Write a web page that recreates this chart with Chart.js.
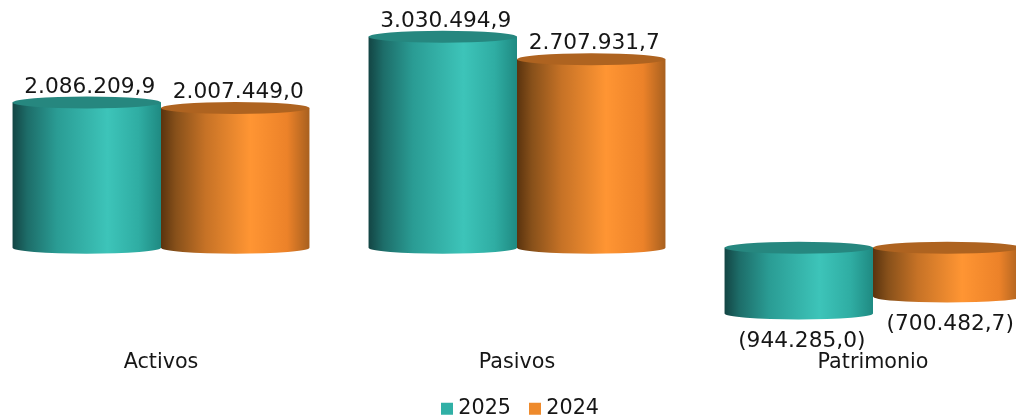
<!DOCTYPE html>
<html>
<head>
<meta charset="utf-8">
<title>Activos, Pasivos y Patrimonio</title>
<script src="https://cdn.jsdelivr.net/npm/chart.js@4"></script>
<style>
html, body { margin: 0; padding: 0; background: #fff; overflow: hidden; }
#wrap { position: absolute; left: -17px; top: 0; width: 1068px; height: 417px; }
</style>
</head>
<body>
<div id="wrap"><canvas id="chartBalance"></canvas></div>
<script>
const categories = ['Activos', 'Pasivos', 'Patrimonio'];
const values_2025 = [2086209.9, 3030494.9, -944285.0];
const values_2024 = [2007449.0, 2707931.7, -700482.7];
const series_labels = ['2025', '2024'];

const font_family = '"DejaVu Sans", sans-serif';
const font_size = 20.7;
const value_font_size = 21.7;
const text_color = '#161616';

// side shading and cap colour of each cylinder
const shades = [
    {
        flat: '#30b0a6',
        cap: '#26877f',
        stops: [[0, '#134544'], [0.1, '#1d6d69'], [0.3, '#2a9c94'], [0.64, '#3dc4b9'], [0.85, '#2fada3'], [1, '#1f8a82']]
    },
    {
        flat: '#ee8a2c',
        cap: '#ae6320',
        stops: [[0, '#5a330e'], [0.1, '#87501a'], [0.3, '#c67226'], [0.6, '#ff9533'], [0.85, '#ec8229'], [1, '#a8601f']]
    }
];

const cap_ry = 6;

const money = new Intl.NumberFormat('de-DE', { minimumFractionDigits: 1, maximumFractionDigits: 1 });
function formatValue(v) {
    return v < 0 ? '(' + money.format(-v) + ')' : money.format(v);
}

// replaces the flat bars with shaded cylinders, using the bar elements' geometry
const cylinders = {
    id: 'cylinders',
    afterLayout(chart) {
        // legend sits a little right of the plot centre
        chart.legend.left += 5.5;
        chart.legend.right += 5.5;
    },
    beforeDatasetDraw(chart, args) {
        const c = chart.ctx;
        const shade = shades[args.index];
        args.meta.data.forEach(function (bar) {
            const rx = bar.width / 2;
            const top = Math.min(bar.y, bar.base);
            const bottom = Math.max(bar.y, bar.base);
            const grad = c.createLinearGradient(bar.x - rx, 0, bar.x + rx, 0);
            shade.stops.forEach(function (s) { grad.addColorStop(s[0], s[1]); });
            c.save();
            c.fillStyle = grad;
            c.beginPath();
            c.moveTo(bar.x - rx, top);
            c.lineTo(bar.x - rx, bottom);
            c.ellipse(bar.x, bottom, rx, cap_ry, 0, Math.PI, 0, true);
            c.lineTo(bar.x + rx, top);
            c.closePath();
            c.fill();
            c.fillStyle = shade.cap;
            c.beginPath();
            c.ellipse(bar.x, top, rx, cap_ry, 0, 0, Math.PI * 2);
            c.fill();
            c.restore();
        });
        return false;
    },
    afterDatasetsDraw(chart) {
        const c = chart.ctx;
        c.save();
        c.font = value_font_size + 'px ' + font_family;
        c.fillStyle = text_color;
        c.textAlign = 'center';
        c.textBaseline = 'middle';
        chart.data.datasets.forEach(function (ds, i) {
            chart.getDatasetMeta(i).data.forEach(function (bar, j) {
                const v = ds.data[j];
                const y = v < 0 ? bar.y + 27.5 : bar.y - 15.5;
                c.fillText(formatValue(v), bar.x + 3, y);
            });
        });
        c.restore();
    }
};

const ctx1 = document.getElementById('chartBalance').getContext('2d');
const chartBalance = new Chart(ctx1, {
    type: 'bar',
    data: {
        labels: categories,
        datasets: [{
            label: series_labels[0],
            data: values_2025,
            backgroundColor: shades[0].flat
        }, {
            label: series_labels[1],
            data: values_2024,
            backgroundColor: shades[1].flat
        }]
    },
    options: {
        responsive: true,
        maintainAspectRatio: false,
        animation: false,
        barPercentage: 1,
        categoryPercentage: 0.834,
        layout: {
            padding: { left: 0, right: 0, top: 11, bottom: -12 }
        },
        scales: {
            x: {
                grid: { display: false },
                border: { display: false },
                ticks: {
                    color: text_color,
                    padding: -3,
                    font: { family: font_family, size: font_size }
                },
                afterFit(axis) {
                    axis.height = 30;
                }
            },
            y: {
                display: false,
                min: -1400000,
                max: 3400000
            }
        },
        plugins: {
            tooltip: { enabled: false },
            legend: {
                position: 'bottom',
                labels: {
                    color: text_color,
                    usePointStyle: true,
                    pointStyle: 'rect',
                    boxWidth: 2,
                    boxHeight: 12,
                    padding: 23,
                    font: { family: font_family, size: font_size }
                }
            }
        }
    },
    plugins: [cylinders]
});
</script>
</body>
</html>
